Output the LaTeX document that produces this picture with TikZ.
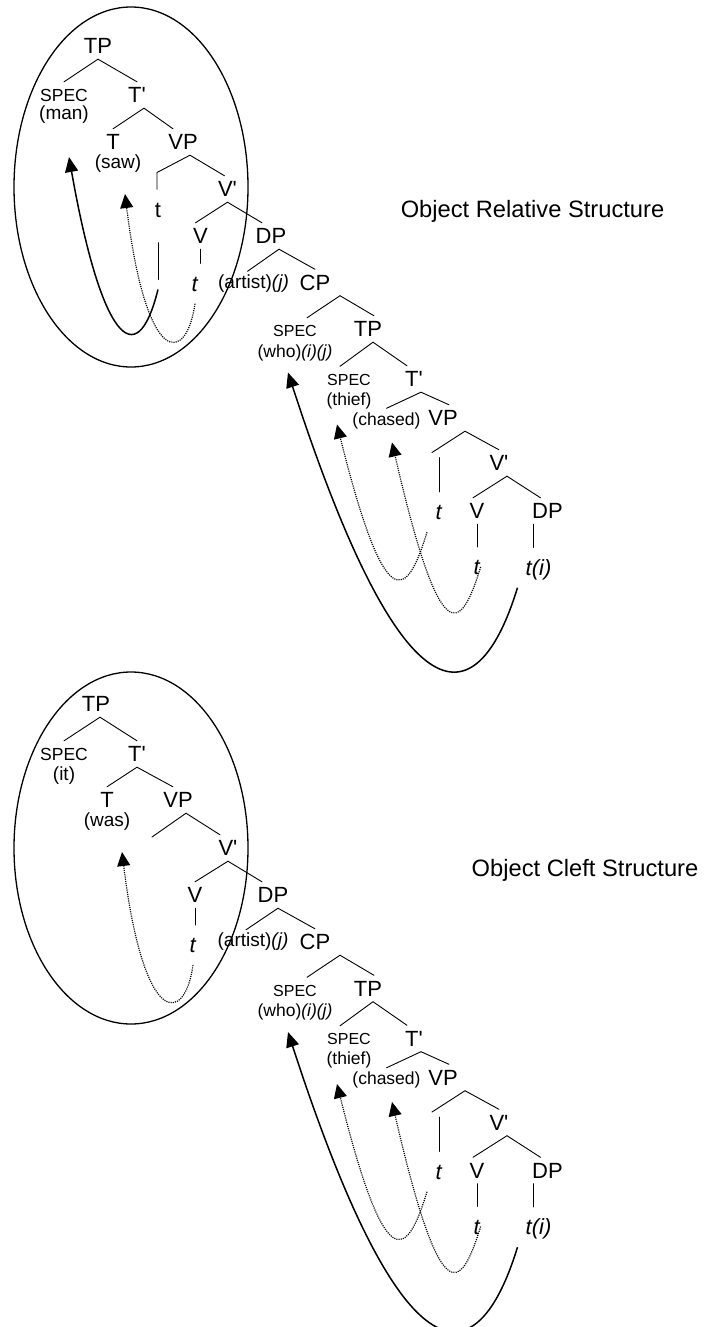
\documentclass[tikz,border=0pt]{standalone}
\usepackage{fontspec}
\setmainfont{Liberation Sans}
\usepackage{tikz}
\usetikzlibrary{positioning,arrows.meta}
\newcommand{\prm}{\textquotesingle}
\tikzset{
	lab/.style={inner sep=0pt, font=\fontsize{22}{26}\selectfont, text height=20.9pt, text depth=5.1pt},
	leaf/.style={inner sep=0pt, font=\fontsize{22}{26}\selectfont, text height=27.9pt, text depth=12.1pt},
	spec/.style={inner sep=0pt, font=\fontsize{17.5}{21}\selectfont, text height=19.3pt, text depth=6.7pt},
	specsm/.style={spec, font=\fontsize{16}{19}\selectfont, text height=18.7pt, text depth=7.3pt},
	word/.style={inner sep=0pt, font=\fontsize{19}{23}\selectfont, text height=16.9pt, text depth=7.1pt},
	wordsm/.style={word, font=\fontsize{17.5}{21}\selectfont, text height=16.6pt, text depth=7.4pt},
	title/.style={inner sep=0pt, font=\fontsize{23.7}{28}\selectfont, anchor=base},
	branch/.style={line width=0.9pt, line cap=round},
	ring/.style={line width=1.3pt},
	solidmove/.style={line width=1.5pt, -{Triangle[length=15pt,width=13pt]}},
	dotmove/.style={line width=1.2pt, dash pattern=on 1.1pt off 1.1pt, -{Triangle[length=14pt,width=13pt]}}
}
% the relative clause under CP, same in both structures
\newcommand{\relclause}[1]{%
	\node[specsm, below left=48.5pt and 20pt of #1cp] (#1spec2) {SPEC};
	\node[wordsm, below=21.5pt of #1spec2] (#1who) {(who)\textit{(i)(j)}};
	\node[lab, below right=46.5pt and 53pt of #1cp] (#1tp2) {TP};
	\node[specsm, below left=50.5pt and 19pt of #1tp2] (#1spec3) {SPEC};
	\node[wordsm, below=21pt of #1spec3] (#1thief) {(thief)};
	\node[lab, below right=50pt and 46pt of #1tp2] (#1tb2) {T\prm};
	\node[wordsm, below left=41.5pt and 27.5pt of #1tb2] (#1chased) {(chased)};
	\node[lab, below right=39pt and 29pt of #1tb2] (#1vp2) {VP};
	\coordinate[below left=34.5pt and 11pt of #1vp2] (#1vpl2);
	\node[leaf, below left=94pt and 4pt of #1vp2] (#1tt2) {\textit{t}};
	\node[lab, below right=45pt and 56pt of #1vp2] (#1vb2) {V\prm};
	\node[lab, below left=48pt and 22pt of #1vb2] (#1v2) {V};
	\node[lab, below right=48pt and 48.5pt of #1vb2] (#1dp2) {DP};
	\node[leaf, below=56pt of #1v2] (#1vt2) {\textit{t}};
	\node[leaf, below left=56.5pt and 9pt of #1dp2] (#1ti) {\textit{t(i)}};
	\coordinate[below left=20pt and 7pt of #1who] (#1whotip);
	\coordinate[below left=24pt and 12pt of #1thief] (#1thieftip);
	\coordinate[below right=22pt and 5.5pt of #1chased] (#1chasedtip);
	%
	\draw[branch] ([xshift=12pt]#1spec2.north) -- ([xshift=25pt]#1cp.south) -- ([xshift=6pt]#1tp2.north);
	\draw[branch] ([xshift=-9pt]#1spec3.north) -- ([xshift=5pt]#1tp2.south) -- ([xshift=-7pt]#1tb2.north);
	\draw[branch] (#1chased.north) -- ([xshift=7pt]#1tb2.south) -- ([xshift=6pt]#1vp2.north);
	\draw[branch] (#1vpl2) -- ([xshift=22pt]#1vp2.south) -- (#1vb2.north);
	\draw[branch] ([xshift=-4pt]#1v2.north) -- ([xshift=8pt]#1vb2.south) -- ([xshift=-7pt]#1dp2.north);
	\draw[branch, shorten >=5pt] (#1tt2.north) -- (#1tt2.north |- #1vpl2);
	\draw[branch] (#1v2.south) -- (#1v2.south |- #1vt2.north);
	\draw[branch] ([xshift=-14pt]#1dp2.south) -- ([xshift=-14pt]#1dp2.south |- #1ti.north);
	%
	\draw[solidmove] ([xshift=-8pt]#1ti.south west) to[out=-107, in=-72, out distance=120pt, in distance=400pt] (#1whotip);
	\draw[dotmove] ([xshift=-12pt]#1tt2.south) to[out=-107, in=-76, out distance=70pt, in distance=200pt] (#1thieftip);
	\draw[dotmove] (#1vt2.east) to[out=-107, in=-77, out distance=70pt, in distance=214pt] (#1chasedtip);
}

\begin{document}
\begin{tikzpicture}[x=1pt, y=1pt, on grid]
	\useasboundingbox (0,0) rectangle (704,-1327);

	% object relative structure
	\draw[ring] (131,-187) ellipse [x radius=117pt, y radius=180pt];
	\node[title] (reltitle) at (532.5,-217.5) {Object Relative Structure};

	\node[lab] (rtp) at (98,-46) {TP};
	\node[spec, below left=49pt and 34pt of rtp] (rspec) {SPEC};
	\node[word, below=20pt of rspec] (rman) {(man)};
	\node[lab, below right=49pt and 39pt of rtp] (rtb) {T\prm};
	\node[lab, below left=47pt and 24pt of rtb] (rt) {T};
	\node[word, below right=22pt and 5pt of rt] (rsaw) {(saw)};
	\node[lab, below right=47pt and 46pt of rtb] (rvp) {VP};
	\coordinate[below left=30.5pt and 26pt of rvp] (rvpl);
	\node[leaf, below left=67.5pt and 25pt of rvp] (rtt) {t};
	\coordinate[below=80pt of rtt] (rtr);
	\node[lab, below right=47pt and 44.5pt of rvp] (rvb) {V\prm};
	\node[lab, below left=47pt and 27pt of rvb] (rv) {V};
	\node[lab, below right=47pt and 43.5pt of rvb] (rdp) {DP};
	\node[leaf, below left=47.5pt and 5.5pt of rv] (rvt) {\textit{t}};
	\node[word, below left=47.5pt and 17.5pt of rdp] (rart) {(artist)\textit{(j)}};
	\node[lab, below right=46.5pt and 44pt of rdp] (rcp) {CP};
	\coordinate[below right=42pt and 5pt of rman] (rmantip);
	\coordinate[below right=30pt and 7pt of rsaw] (rsawtip);

	\draw[branch] (rspec.north) -- (rtp.south) -- (rtb.north);
	\draw[branch] (rt.north) -- ([xshift=7pt]rtb.south) -- ([xshift=-10pt]rvp.north);
	\draw[branch] (rvpl |- rtt.north) -- (rvpl) -- ([xshift=7pt]rvp.south) -- ([xshift=-3pt]rvb.north);
	\draw[branch] ([xshift=-5pt]rv.north) -- (rvb.south) -- ([xshift=-9pt]rdp.north);
	\draw[branch] ([xshift=-6pt]rart.north) -- ([xshift=8pt]rdp.south) -- (rcp.north);
	\draw[branch] (rv.south) -- (rv.south |- rvt.north);
	\draw[branch, shorten <=13pt, shorten >=10pt] (rtt.south) -- (rtr);

	\draw[solidmove] (rtr) to[out=-104, in=-80, out distance=91pt, in distance=181pt] (rmantip);
	\draw[dotmove] (rvt.south) to[out=-98, in=-83, out distance=60pt, in distance=178pt] (rsawtip);
	\relclause{r}

	% object cleft structure
	\draw[ring] (131,-848) ellipse [x radius=117pt, y radius=176pt];
	\node[title] (clefttitle) at (585,-876.5) {Object Cleft Structure};

	\node[lab] (ctp) at (96,-704) {TP};
	\node[spec, below left=50pt and 32pt of ctp] (cspec) {SPEC};
	\node[word, below=22pt of cspec] (cit) {(it)};
	\node[lab, below right=50pt and 41pt of ctp] (ctb) {T\prm};
	\node[lab, below left=46pt and 30pt of ctb] (ct) {T};
	\node[word, below=22pt of ct] (cwas) {(was)};
	\node[lab, below right=46pt and 41pt of ctb] (cvp) {VP};
	\coordinate[below left=37pt and 26pt of cvp] (cvpl);
	\node[lab, below right=48pt and 50pt of cvp] (cvb) {V\prm};
	\node[lab, below left=47pt and 33pt of cvb] (cv) {V};
	\node[lab, below right=47pt and 45pt of cvb] (cdp) {DP};
	\node[leaf, below left=50pt and 2pt of cv] (cvt) {\textit{t}};
	\node[word, below left=47pt and 20pt of cdp] (cart) {(artist)\textit{(j)}};
	\node[lab, below right=47pt and 42pt of cdp] (ccp) {CP};
	\coordinate[below right=30pt and 15pt of cwas] (cwastip);

	\draw[branch] (cspec.north) -- ([xshift=4pt]ctp.south) -- (ctb.north);
	\draw[branch] (ct.north) -- (ctb.south) -- ([xshift=-5pt]cvp.north);
	\draw[branch] (cvpl) -- ([xshift=8pt]cvp.south) -- ([xshift=-8pt]cvb.north);
	\draw[branch] (cv.north) -- (cvb.south) -- ([xshift=-11pt]cdp.north);
	\draw[branch] ([xshift=-7pt]cart.north) -- ([xshift=5pt]cdp.south) -- (ccp.north);
	\draw[branch] (cv.south) -- (cv.south |- cvt.north);

	\draw[dotmove] (cvt.south) to[out=-98, in=-83, out distance=60pt, in distance=178pt] (cwastip);
	\relclause{c}
\end{tikzpicture}
\end{document}
